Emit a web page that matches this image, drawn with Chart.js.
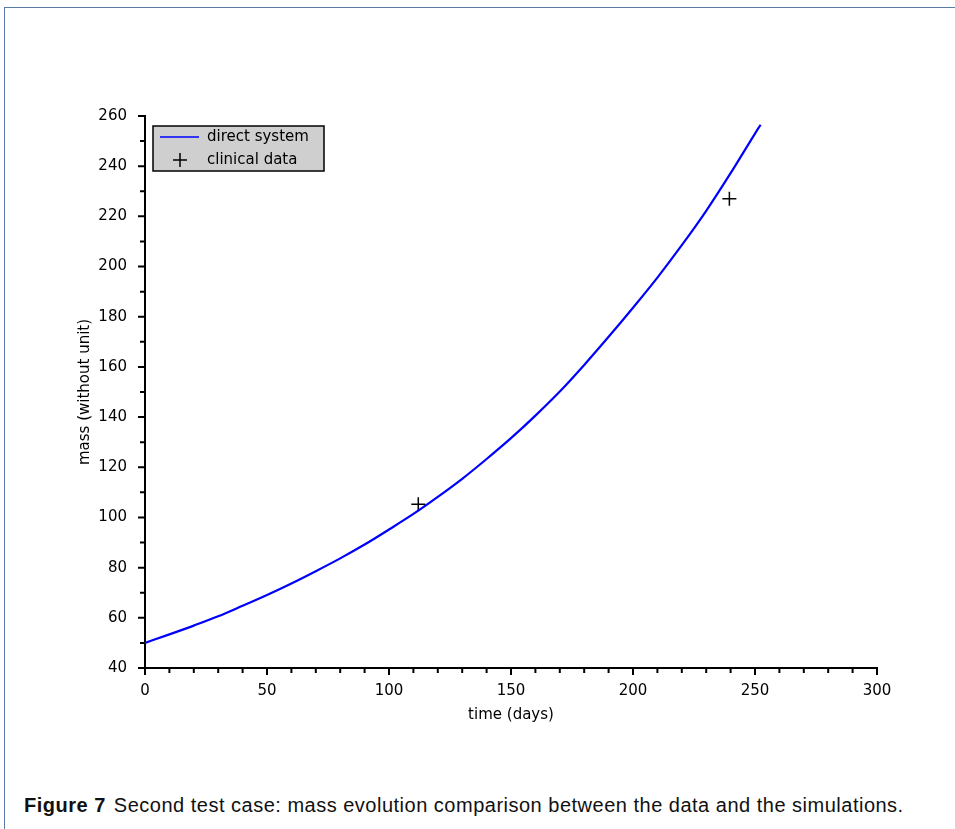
<!DOCTYPE html>
<html>
<head>
<meta charset="utf-8">
<script src="https://cdn.jsdelivr.net/npm/chart.js@4/dist/chart.umd.min.js"></script>
<style>
  html, body { margin: 0; padding: 0; background: #fff; }
  #page { position: relative; width: 955px; height: 829px; overflow: hidden; }
  #frame { position: absolute; left: 4px; top: 7px; width: 960px; height: 830px;
           border-top: 1px solid #5a7aa8; border-left: 1px solid #5a7aa8; }
  #chart-container { position: absolute; left: 0; top: 0; width: 955px; height: 760px; }
  #caption { position: absolute; left: 24px; top: 794px; font-family: "Liberation Sans", Arial, sans-serif;
             font-size: 20px; letter-spacing: 0.5px; color: #111; white-space: nowrap; }
  #caption b { font-weight: bold; margin-right: 2px; }
</style>
</head>
<body>
<div id="page">
  <div id="frame"></div>
  <div id="chart-container"><canvas id="massChart" width="955" height="760"></canvas></div>
  <div id="caption"><b>Figure 7</b> Second test case: mass evolution comparison between the data and the simulations.</div>
</div>
<script>
// simulated curve (direct system)
const simDays = [0, 10, 20, 30, 40, 50, 60, 70, 80, 90, 100, 110, 120, 130, 140, 150,
                 160, 170, 180, 190, 200, 210, 220, 230, 240, 250, 252.3];
const simMass = [50.0, 53.4, 56.9, 60.6, 64.8, 69.1, 73.7, 78.6, 83.7, 89.2, 95.2, 101.4, 108.2,
                 115.4, 123.3, 131.6, 140.6, 150.2, 160.8, 172.0, 183.6, 195.6, 208.5, 222.2,
                 237.2, 253.0, 256.5];

// clinical measurements
const clinicalDays = [112, 239.5];
const clinicalMass = [105.3, 227.0];

const xTicks = [0, 50, 100, 150, 200, 250, 300];
const yTicks = [40, 60, 80, 100, 120, 140, 160, 180, 200, 220, 240, 260];

const tickFont = { family: 'DejaVu Sans', size: 15 };

// minor/major tick marks drawn on the scales + the legend box
const axisDecor = {
  id: 'axisDecor',
  afterDraw(chart) {
    const ctx = chart.ctx;
    const xs = chart.scales.x, ys = chart.scales.y;
    const area = chart.chartArea;
    ctx.save();
    ctx.strokeStyle = '#000';
    ctx.lineWidth = 2;
    ctx.beginPath();
    for (let v = 0; v <= 300; v += 10) {
      const px = xs.getPixelForValue(v);
      const len = v % 50 === 0 ? 7 : 5;
      ctx.moveTo(px, area.bottom);
      ctx.lineTo(px, area.bottom + len);
    }
    for (let v = 40; v <= 260; v += 10) {
      const py = ys.getPixelForValue(v);
      const len = v % 20 === 0 ? 7 : 5;
      ctx.moveTo(area.left, py);
      ctx.lineTo(area.left - len, py);
    }
    ctx.stroke();

    // legend
    const lx = 153, ly = 126, lw = 171, lh = 45;
    ctx.fillStyle = '#cfcfcf';
    ctx.fillRect(lx, ly, lw, lh);
    ctx.strokeStyle = '#000';
    ctx.lineWidth = 1.5;
    ctx.strokeRect(lx, ly, lw, lh);
    const ds = chart.data.datasets;
    ctx.font = '15px "DejaVu Sans"';
    ctx.textBaseline = 'middle';
    ctx.fillStyle = '#000';
    // line entry
    ctx.strokeStyle = ds[0].borderColor;
    ctx.lineWidth = 1.5;
    ctx.beginPath();
    ctx.moveTo(lx + 7, ly + 11);
    ctx.lineTo(lx + 46, ly + 11);
    ctx.stroke();
    ctx.fillText(ds[0].label, lx + 54, ly + 11);
    // cross entry
    ctx.strokeStyle = '#000';
    ctx.beginPath();
    ctx.moveTo(lx + 20, ly + 34); ctx.lineTo(lx + 34, ly + 34);
    ctx.moveTo(lx + 27, ly + 27); ctx.lineTo(lx + 27, ly + 41);
    ctx.stroke();
    ctx.fillText(ds[1].label, lx + 54, ly + 34);
    ctx.restore();
  }
};

const ctx = document.getElementById('massChart').getContext('2d');
new Chart(ctx, {
  type: 'scatter',
  data: {
    datasets: [
      {
        label: 'direct system',
        data: simDays.map((d, i) => ({ x: d, y: simMass[i] })),
        showLine: true,
        borderColor: '#0000ff',
        borderWidth: 2.2,
        pointRadius: 0,
        cubicInterpolationMode: 'monotone'
      },
      {
        label: 'clinical data',
        data: clinicalDays.map((d, i) => ({ x: d, y: clinicalMass[i] })),
        showLine: false,
        pointStyle: 'cross',
        pointRadius: 7,
        borderColor: '#000',
        borderWidth: 1.5
      }
    ]
  },
  options: {
    responsive: false,
    animation: false,
    devicePixelRatio: 1,
    layout: { padding: { left: 72, right: 78, top: 116, bottom: 32 } },
    plugins: { legend: { display: false }, tooltip: { enabled: false } },
    scales: {
      x: {
        type: 'linear', min: 0, max: 300,
        afterBuildTicks: s => { s.ticks = xTicks.map(v => ({ value: v })); },
        afterFit: s => { s.height = 60; },
        grid: { display: false },
        border: { display: true, color: '#000', width: 2 },
        ticks: { color: '#000', font: tickFont, padding: 6, maxRotation: 0 },
        title: { display: true, text: 'time (days)', color: '#000', font: tickFont, padding: { top: 2 } }
      },
      y: {
        type: 'linear', min: 40, max: 260,
        afterBuildTicks: s => { s.ticks = yTicks.map(v => ({ value: v })); },
        afterFit: s => { s.width = 73; },
        grid: { display: false },
        border: { display: true, color: '#000', width: 2 },
        ticks: { color: '#000', font: tickFont, padding: 10 },
        title: { display: true, text: 'mass (without unit)', color: '#000', font: tickFont, padding: { top: 4, bottom: 0 } }
      }
    }
  },
  plugins: [axisDecor]
});
</script>
</body>
</html>
